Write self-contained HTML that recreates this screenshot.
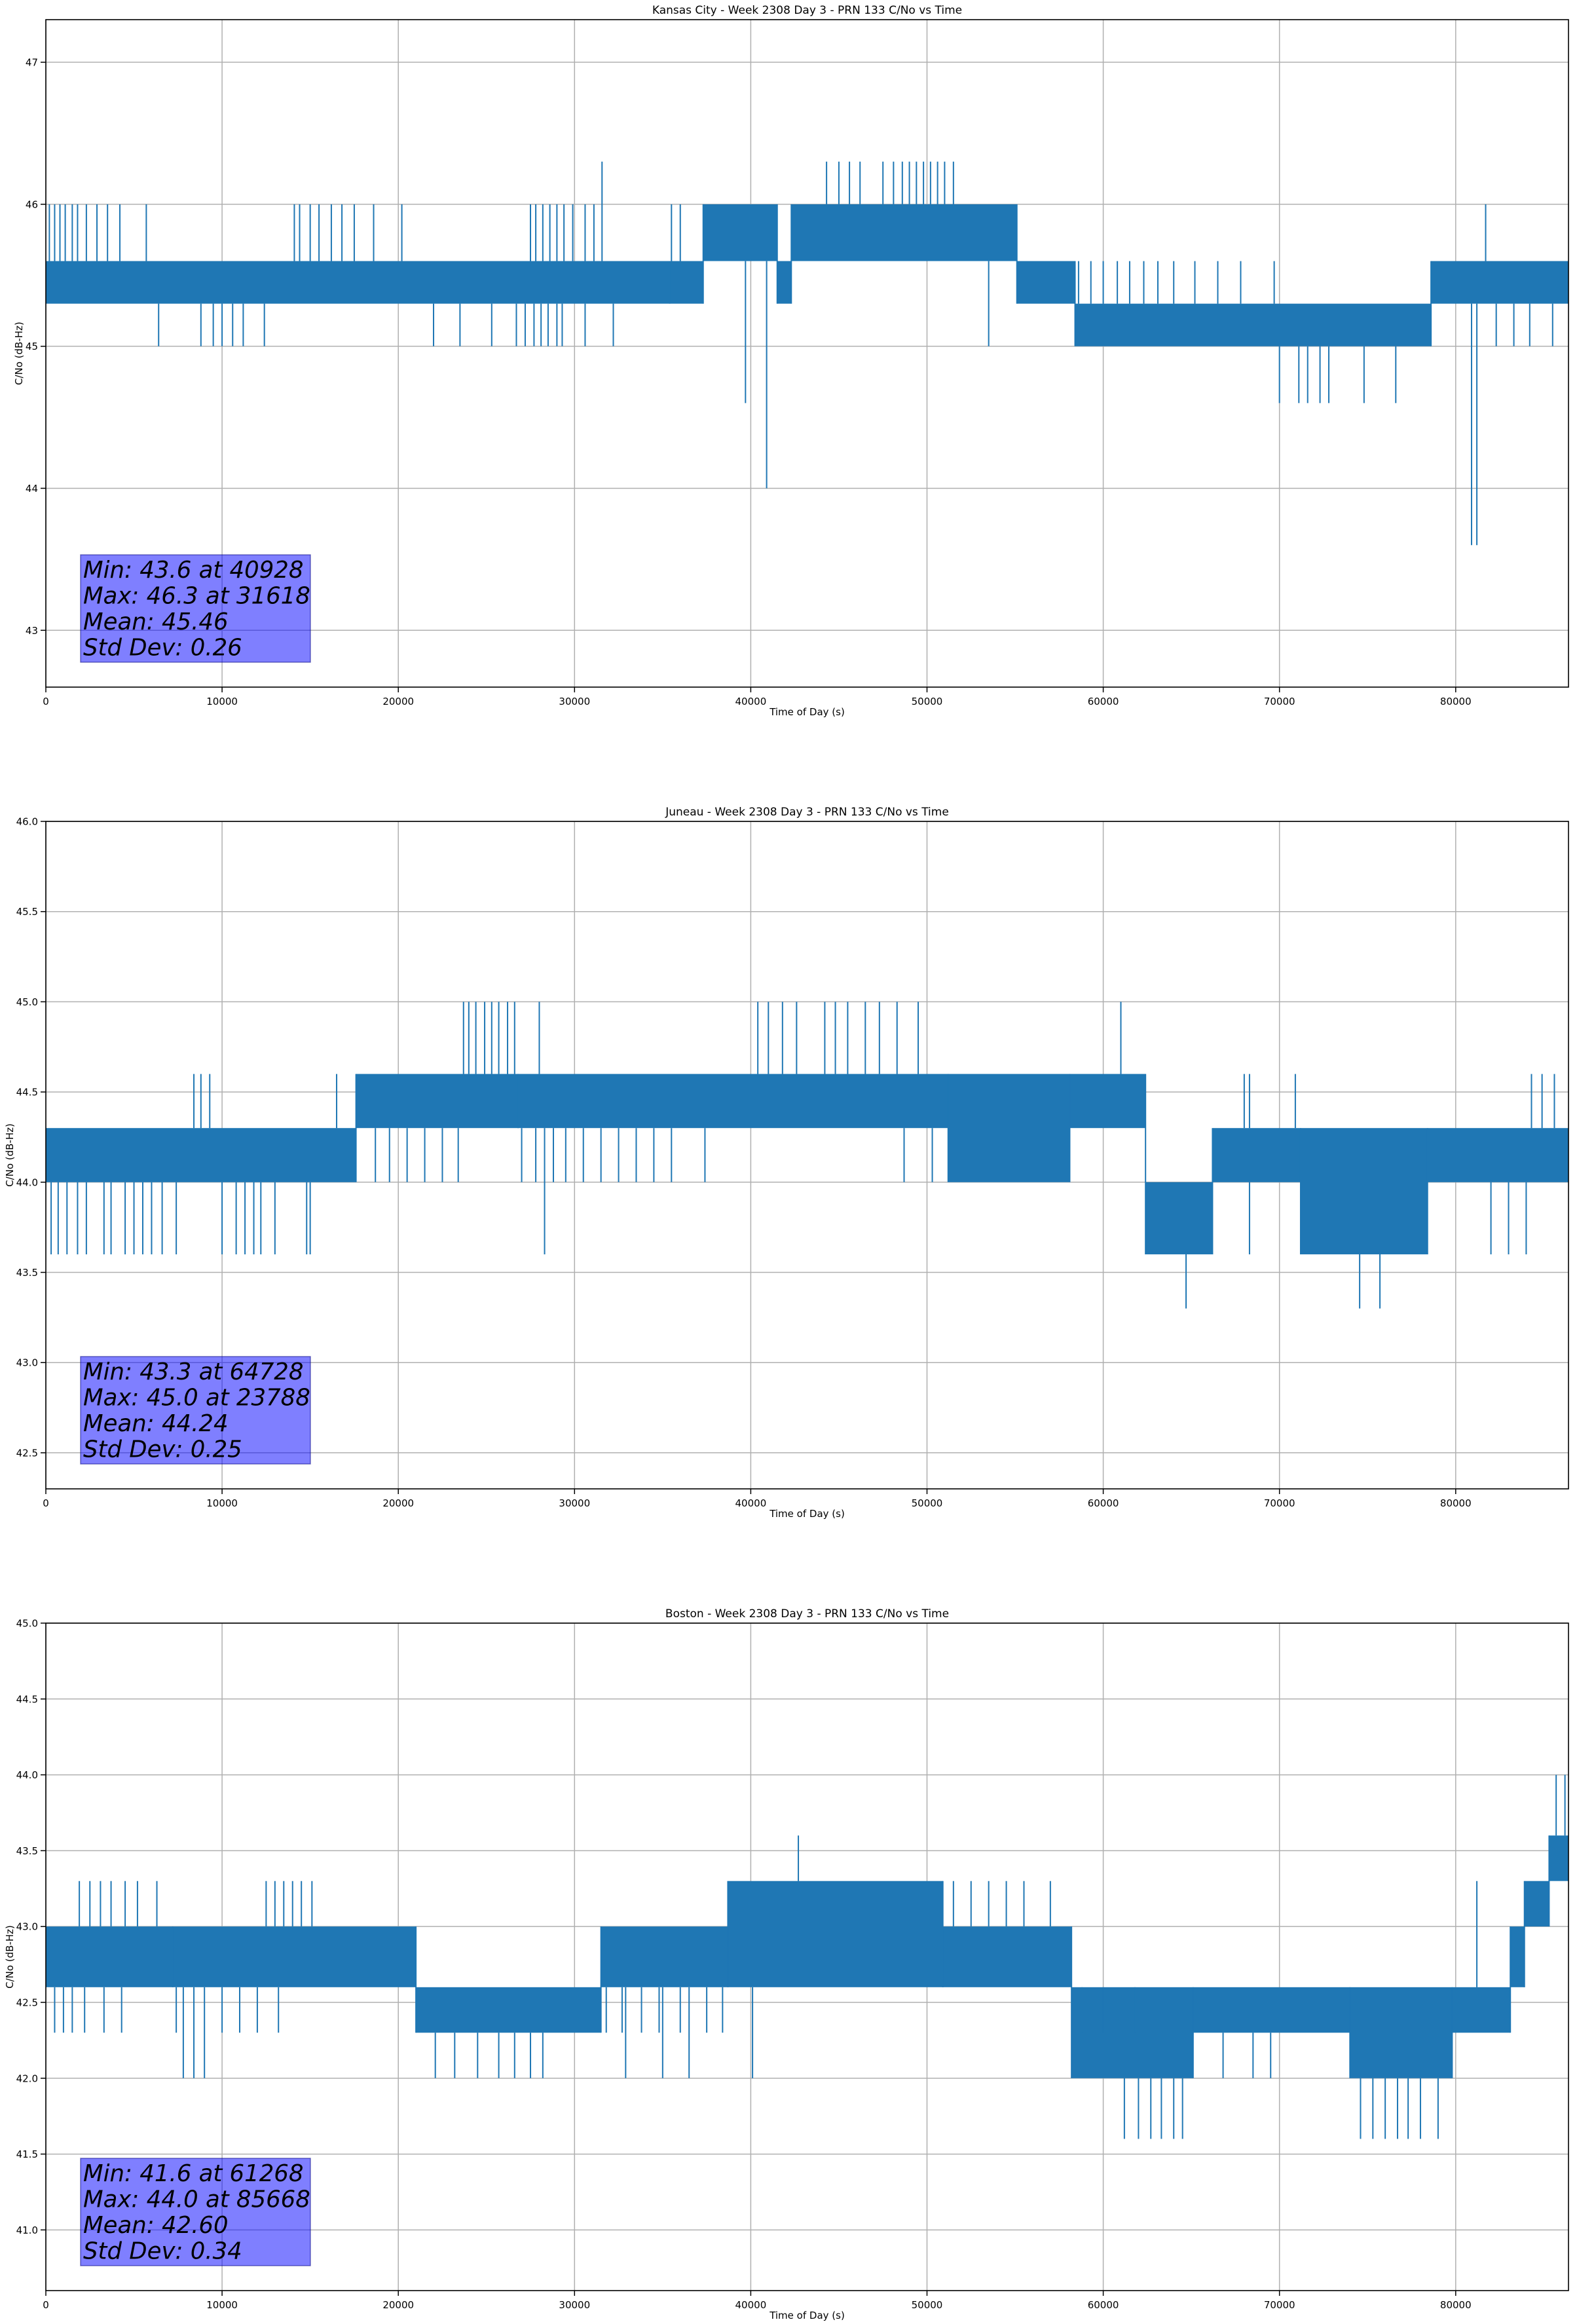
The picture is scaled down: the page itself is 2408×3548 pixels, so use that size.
<!DOCTYPE html>
<html><head><meta charset="utf-8"><style>
html,body{margin:0;padding:0;background:#fff}
svg{display:block}
text{font-family:"DejaVu Sans","Liberation Sans",sans-serif}
</style></head><body>
<svg id="fig" width="2408" height="3548" viewBox="0 0 2408 3548" xmlns="http://www.w3.org/2000/svg"></svg>
<script>
// ---------- Kansas City ----------
const kcTitle = "Kansas City - Week 2308 Day 3 - PRN 133 C/No vs Time";
const kcYTicks = [43, 44, 45, 46, 47];
const kcYTickLabels = ["43", "44", "45", "46", "47"];
const kcYLim = [42.6, 47.3];
const kcBandStart = [0, 35400, 37300, 41500, 42300, 55100, 58400, 78600];
const kcBandEnd   = [35400, 37300, 41500, 42300, 55100, 58400, 78600, 86400];
const kcBandLow   = [45.3, 45.3, 45.6, 45.3, 45.6, 45.3, 45.0, 45.3];
const kcBandHigh  = [45.6, 45.6, 46.0, 45.6, 46.0, 45.6, 45.3, 45.6];
const kcSpikeT = [200,500,800,1100,1500,1800,2300,2900,3500,4200,5700,14100,14400,15000,15500,16200,16800,17500,18600,20200,27500,27800,28200,28600,29000,29400,29900,30600,31100,35500,36000,31560,44300,45000,45600,46200,47500,48100,48600,49000,49400,49800,50200,50600,51000,51500,81700,6400,8800,9500,10000,10600,11200,12400,22000,23500,25300,26700,27200,27700,28100,28500,29000,29300,30600,32200,53500,58600,59300,60000,60800,61500,62300,63100,64000,65200,66500,67800,69700,70000,71100,71600,72300,72800,74800,76600,39700,40900,80900,81200,82300,83300,84200,85500];
const kcSpikeV = [46,46,46,46,46,46,46,46,46,46,46,46,46,46,46,46,46,46,46,46,46,46,46,46,46,46,46,46,46,46,46,46.3,46.3,46.3,46.3,46.3,46.3,46.3,46.3,46.3,46.3,46.3,46.3,46.3,46.3,46.3,46,45,45,45,45,45,45,45,45,45,45,45,45,45,45,45,45,45,45,45,45,45.6,45.6,45.6,45.6,45.6,45.6,45.6,45.6,45.6,45.6,45.6,45.6,44.6,44.6,44.6,44.6,44.6,44.6,44.6,44.6,44,43.6,43.6,45,45,45,45,45];
const kcStats = ["Min: 43.6 at 40928", "Max: 46.3 at 31618", "Mean: 45.46", "Std Dev: 0.26"];

// ---------- Juneau ----------
const juTitle = "Juneau - Week 2308 Day 3 - PRN 133 C/No vs Time";
const juYTicks = [42.5, 43.0, 43.5, 44.0, 44.5, 45.0, 45.5, 46.0];
const juYTickLabels = ["42.5", "43.0", "43.5", "44.0", "44.5", "45.0", "45.5", "46.0"];
const juYLim = [42.3, 46.0];
const juBandStart = [0, 17600, 26800, 51200, 58100, 62400, 66200, 71200, 78400];
const juBandEnd   = [17600, 26800, 51200, 58100, 62400, 66200, 71200, 78400, 86400];
const juBandLow   = [44.0, 44.3, 44.3, 44.0, 44.3, 43.6, 44.0, 43.6, 44.0];
const juBandHigh  = [44.3, 44.6, 44.6, 44.6, 44.6, 44.0, 44.3, 44.3, 44.3];
const juSpikeT = [8400,8800,9300,16500,68000,68300,70900,84300,84900,85600,23700,24000,24400,24900,25300,25700,26200,26600,28000,40400,41000,41800,42600,44200,44800,45500,46500,47300,48300,49500,61000,300,700,1200,1800,2300,3300,3700,4500,5000,5500,6000,6600,7400,10000,10800,11300,11800,12200,13000,14800,15000,28300,68300,82000,83000,84000,64700,74550,75700,18700,19500,20500,21500,22500,23400,27000,27800,28800,29500,30500,31500,32500,33500,34500,35500,37400,48700,50300];
const juSpikeV = [44.6,44.6,44.6,44.6,44.6,44.6,44.6,44.6,44.6,44.6,45,45,45,45,45,45,45,45,45,45,45,45,45,45,45,45,45,45,45,45,45,43.6,43.6,43.6,43.6,43.6,43.6,43.6,43.6,43.6,43.6,43.6,43.6,43.6,43.6,43.6,43.6,43.6,43.6,43.6,43.6,43.6,43.6,43.6,43.6,43.6,43.6,43.3,43.3,43.3,44,44,44,44,44,44,44,44,44,44,44,44,44,44,44,44,44,44,44];
const juStats = ["Min: 43.3 at 64728", "Max: 45.0 at 23788", "Mean: 44.24", "Std Dev: 0.25"];

// ---------- Boston ----------
const boTitle = "Boston - Week 2308 Day 3 - PRN 133 C/No vs Time";
const boYTicks = [41.0, 41.5, 42.0, 42.5, 43.0, 43.5, 44.0, 44.5, 45.0];
const boYTickLabels = ["41.0", "41.5", "42.0", "42.5", "43.0", "43.5", "44.0", "44.5", "45.0"];
const boYLim = [40.6, 45.0];
const boBandStart = [0, 7200, 21000, 31500, 38700, 50900, 58200, 65100, 74000, 79800, 83100, 83900, 85300];
const boBandEnd   = [7200, 21000, 31500, 38700, 50900, 58200, 65100, 74000, 79800, 83100, 83900, 85300, 86400];
const boBandLow   = [42.6, 42.6, 42.3, 42.6, 42.6, 42.6, 42.0, 42.3, 42.0, 42.3, 42.6, 43.0, 43.3];
const boBandHigh  = [43.0, 43.0, 42.6, 43.0, 43.3, 43.0, 42.6, 42.6, 42.6, 42.6, 43.0, 43.3, 43.6];
const boSpikeT = [1900,2500,3100,3700,4500,5200,6300,12500,13000,13500,14000,14500,15100,51500,52500,53500,54500,55500,57000,81200,42700,85700,86200,500,1000,1500,2200,3300,4300,7400,7800,8400,9000,10000,11000,12000,13200,22100,23200,24500,25700,26600,27500,28200,32900,35000,36500,40100,61200,62000,62700,63300,64000,64500,74600,75300,76000,76700,77300,78000,79000,31800,32700,33800,34800,36000,37500,38400,58800,60000,61800,66800,68500,69500];
const boSpikeV = [43.3,43.3,43.3,43.3,43.3,43.3,43.3,43.3,43.3,43.3,43.3,43.3,43.3,43.3,43.3,43.3,43.3,43.3,43.3,43.3,43.6,44,44,42.3,42.3,42.3,42.3,42.3,42.3,42.3,42,42,42,42.3,42.3,42.3,42.3,42,42,42,42,42,42,42,42,42,42,42,41.6,41.6,41.6,41.6,41.6,41.6,41.6,41.6,41.6,41.6,41.6,41.6,41.6,42.3,42.3,42.3,42.3,42.3,42.3,42.3,42.6,42.6,42.6,42.0,42.0,42.0];
const boStats = ["Min: 41.6 at 61268", "Max: 44.0 at 85668", "Mean: 42.60", "Std Dev: 0.34"];

const xTicks = [0, 10000, 20000, 30000, 40000, 50000, 60000, 70000, 80000];
const xTickLabels = ["0", "10000", "20000", "30000", "40000", "50000", "60000", "70000", "80000"];
const xLim = [0, 86400];

const NS = "http://www.w3.org/2000/svg";
const fig = document.getElementById("fig");
function mk(tag, attrs, parent) {
  const e = document.createElementNS(NS, tag);
  for (const k in attrs) e.setAttribute(k, attrs[k]);
  (parent || fig).appendChild(e);
  return e;
}
const L = 70, R = 2395, H = 1019;
const BLUE = "#1f77b4";

function drawChart(key, top, title, yTicks, yLabels, yLim, bS, bE, bLo, bHi, sT, sV, stats, ylx) {
  const g = mk("g", {});
  
  
  const x = t => L + (t - xLim[0]) / (xLim[1] - xLim[0]) * (R - L);
  const y = v => top + H - (v - yLim[0]) / (yLim[1] - yLim[0]) * H;
  const clipId = key + "clip";
  const cp = mk("clipPath", {id: clipId}, g);
  mk("rect", {x: L, y: top, width: R - L, height: H}, cp);
  xTicks.forEach((t, i) => {
    const gl = mk("line", {x1: x(t), x2: x(t), y1: top, y2: top + H, stroke: "#b0b0b0", "stroke-width": 1.5}, g);
    
    
    const tk = mk("line", {x1: x(t), x2: x(t), y1: top + H, y2: top + H + 8, stroke: "#000", "stroke-width": 1.5}, g);
    
    
    const tl = mk("text", {x: x(t), y: top + H + 27, "font-size": 15, "text-anchor": "middle", fill: "#000"}, g);
    tl.textContent = xTickLabels[i];
    
    
  });
  yTicks.forEach((v, i) => {
    const gl = mk("line", {x1: L, x2: R, y1: y(v), y2: y(v), stroke: "#b0b0b0", "stroke-width": 1.5}, g);
    
    
    const tk = mk("line", {x1: L - 8, x2: L, y1: y(v), y2: y(v), stroke: "#000", "stroke-width": 1.5}, g);
    
    
    const tl = mk("text", {x: L - 12, y: y(v) + 5.5, "font-size": 15, "text-anchor": "end", fill: "#000"}, g);
    tl.textContent = yLabels[i];
    
    
  });
  const dg = mk("g", {"clip-path": "url(#" + clipId + ")"}, g);
  
  
  const bandAt = t => { for (let i = 0; i < bS.length; i++) if (t >= bS[i] && t <= bE[i]) return i; return 0; };
  bS.forEach((s, i) => {
    const r = mk("rect", {x: x(s), y: y(bHi[i]), width: Math.max(1, x(bE[i]) - x(s)), height: y(bLo[i]) - y(bHi[i]), fill: BLUE}, dg);
    
    
  });
  for (let i = 1; i < bS.length; i++) {
    const lo = Math.min(bLo[i], bLo[i-1]), hi = Math.max(bHi[i], bHi[i-1]);
    const c = mk("line", {x1: x(bS[i]), x2: x(bS[i]), y1: y(lo), y2: y(hi), stroke: BLUE, "stroke-width": 2}, dg);
    
    
  }
  sT.forEach((t, i) => {
    const b = bandAt(t);
    const base = sV[i] > bHi[b] ? bHi[b] : (sV[i] < bLo[b] ? bLo[b] : (bLo[b] + bHi[b]) / 2);
    const sp = mk("line", {x1: x(t), x2: x(t), y1: y(base), y2: y(sV[i]), stroke: BLUE, "stroke-width": 2}, dg);
    
    
  });
  const fr = mk("rect", {x: L, y: top, width: R - L, height: H, fill: "none", stroke: "#000", "stroke-width": 1.6}, g);
  
  
  const tt = mk("text", {x: (L + R) / 2, y: top - 9, "font-size": 17, "text-anchor": "middle", fill: "#000"}, g);
  tt.textContent = title;
  
  
  const xl = mk("text", {x: (L + R) / 2, y: top + H + 43, "font-size": 15, "text-anchor": "middle", fill: "#000"}, g);
  xl.textContent = "Time of Day (s)";
  
  
  const cy = top + H / 2;
  const yl = mk("text", {x: ylx, y: cy, "font-size": 15, "text-anchor": "middle", fill: "#000", transform: "rotate(-90 " + ylx + " " + cy + ")"}, g);
  yl.textContent = "C/No (dB-Hz)";
  
  
  const sb = mk("rect", {x: 123, y: top + 817, width: 351, height: 164, fill: "rgba(0,0,255,0.5)", stroke: "rgba(0,0,128,0.5)", "stroke-width": 1.5}, g);
  
  
  stats.forEach((s, i) => {
    const st = mk("text", {x: 127, y: top + 852 + i * 39.5, "font-size": 35.5, "font-style": "italic", fill: "#000"}, g);
    st.textContent = s;
    
    
  });
}
drawChart("kansas-city", 30, kcTitle, kcYTicks, kcYTickLabels, kcYLim, kcBandStart, kcBandEnd, kcBandLow, kcBandHigh, kcSpikeT, kcSpikeV, kcStats, 34);
drawChart("juneau", 1254, juTitle, juYTicks, juYTickLabels, juYLim, juBandStart, juBandEnd, juBandLow, juBandHigh, juSpikeT, juSpikeV, juStats, 20);
drawChart("boston", 2478, boTitle, boYTicks, boYTickLabels, boYLim, boBandStart, boBandEnd, boBandLow, boBandHigh, boSpikeT, boSpikeV, boStats, 20);
</script>
</body></html>
